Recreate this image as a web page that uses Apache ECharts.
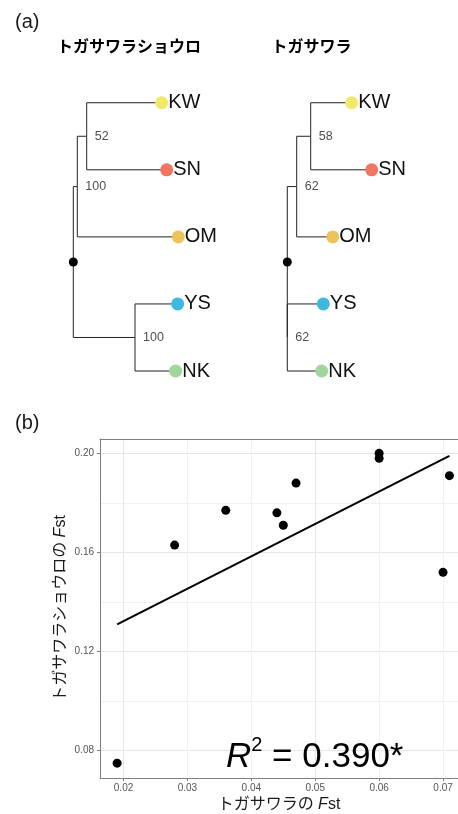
<!DOCTYPE html>
<html>
<head>
<meta charset="utf-8">
<script src="https://cdn.jsdelivr.net/npm/echarts@6/dist/echarts.min.js"></script>
<style>
html, body { margin: 0; padding: 0; background: #fff; }
#main { width: 458px; height: 814px; }
</style>
</head>
<body>
<div id="main"></div>
<script>
// (a) 系統樹：先端の並び（上から）
var tipNames = ['KW', 'SN', 'OM', 'YS', 'NK'];

// 両方の樹で共通のトポロジー（ノードと親）
var treeIds    = ['root', 'a', 'b', 'c', 'KW', 'SN', 'OM', 'YS', 'NK'];
var treeParent = [null, 'root', 'a', 'root', 'b', 'b', 'a', 'c', 'c'];

// トガサワラショウロの樹：根からの深さ、ブートストラップ値
var shoroDepth = [0, 4, 13.4, 61.7, 88.4, 93.4, 105, 104.4, 102.4];
var shoroBoot  = [null, 100, 52, 100, null, null, null, null, null];

// トガサワラの樹
var togaDepth = [0, 9.4, 23.4, 0, 64.4, 84.4, 45.4, 36, 34.4];
var togaBoot  = [null, 62, 58, 62, null, null, null, null, null];

// (b) Fst の散布図
var fstToga  = [0.019, 0.028, 0.036, 0.044, 0.045, 0.047, 0.060, 0.060, 0.071, 0.070];
var fstShoro = [0.075, 0.163, 0.177, 0.176, 0.171, 0.188, 0.200, 0.198, 0.191, 0.152];
// 回帰直線の両端
var fitX = [0.019, 0.071];
var fitY = [0.131, 0.199];

// 目盛り
var xTicks = [0.02, 0.03, 0.04, 0.05, 0.06, 0.07];
var xMinor = [0.025, 0.035, 0.045, 0.055, 0.065];
var yTicks = [0.08, 0.12, 0.16, 0.20];
var yMinor = [0.10, 0.14, 0.18];

var tipColors = { KW: '#F2E96B', SN: '#F07563', OM: '#EEC35B', YS: '#3DB8DF', NK: '#A0D69B' };
var FONT = "'Liberation Sans', 'Noto Sans CJK JP', sans-serif";

var myChart = echarts.init(document.getElementById('main'));

// 樹の座標を作る（y は先端の順番、内部ノードは子の範囲の中点）
function buildTree(depth, boot) {
    var x = {}, y = {};
    treeIds.forEach(function (id, i) { x[id] = depth[i]; });
    function getY(id) {
        var k = tipNames.indexOf(id);
        if (k >= 0) return k + 1;
        var ys = [];
        treeIds.forEach(function (c, i) { if (treeParent[i] === id) ys.push(getY(c)); });
        return (Math.min.apply(null, ys) + Math.max.apply(null, ys)) / 2;
    }
    treeIds.forEach(function (id) { y[id] = getY(id); });
    var edges = [], tips = [], boots = [];
    treeIds.forEach(function (id, i) {
        var p = treeParent[i];
        if (p) edges.push({ coords: [[x[p], y[p]], [x[p], y[id]], [x[id], y[id]]] });
        if (tipNames.indexOf(id) >= 0) {
            tips.push({ value: [x[id], y[id]], name: id, itemStyle: { color: tipColors[id] } });
        }
        if (boot[i] != null) boots.push({ value: [x[id], y[id]], name: String(boot[i]) });
    });
    return { edges: edges, tips: tips, boots: boots, root: [[x.root, y.root]] };
}

function treeSeries(tree, k) {
    return [
        {
            type: 'lines', coordinateSystem: 'cartesian2d', xAxisIndex: k, yAxisIndex: k,
            polyline: true, silent: true,
            lineStyle: { color: '#222', width: 1, opacity: 1 },
            data: tree.edges
        },
        {
            type: 'scatter', xAxisIndex: k, yAxisIndex: k, symbolSize: 13, z: 3,
            itemStyle: { opacity: 1 },
            label: { show: true, position: 'right', distance: 0, formatter: '{b}', fontSize: 20, color: '#111', fontFamily: FONT },
            data: tree.tips
        },
        {
            type: 'scatter', xAxisIndex: k, yAxisIndex: k, symbolSize: 0,
            label: { show: true, position: 'right', distance: 8, formatter: '{b}', fontSize: 12.5, color: '#222', fontFamily: FONT },
            data: tree.boots
        },
        {
            type: 'scatter', xAxisIndex: k, yAxisIndex: k, symbolSize: 9, z: 4,
            itemStyle: { color: '#000', opacity: 1 },
            data: tree.root
        }
    ];
}

var shoroTree = buildTree(shoroDepth, shoroBoot);
var togaTree = buildTree(togaDepth, togaBoot);

var points = fstToga.map(function (v, i) { return [v, fstShoro[i]]; });
var fitLine = fitX.map(function (v, i) { return [v, fitY[i]]; });

var major = { color: '#e6e6e6', width: 1, type: 'solid' };
var minor = { color: '#f1f1f1', width: 1, type: 'solid' };
var gridLines = []
    .concat(yTicks.map(function (v) { return { yAxis: v, lineStyle: major }; }))
    .concat(yMinor.map(function (v) { return { yAxis: v, lineStyle: minor }; }))
    .concat(xTicks.map(function (v) { return { xAxis: v, lineStyle: major }; }))
    .concat(xMinor.map(function (v) { return { xAxis: v, lineStyle: minor }; }));

var hiddenAxis = { type: 'value', show: false };
var fmt2 = function (v) { return v.toFixed(2); };
var nameRich = {
    n: { fontSize: 16, color: '#1a1a1a', fontFamily: FONT },
    i: { fontSize: 16, color: '#1a1a1a', fontStyle: 'italic', fontFamily: FONT }
};
var frame = { show: true, lineStyle: { color: '#7f7f7f', width: 1 } };

option = {
    animation: false,
    backgroundColor: '#fff',
    textStyle: { fontFamily: FONT },
    grid: [
        { left: 68.3, top: 69.2, width: 130, height: 335.35 },
        { left: 282.3, top: 69.2, width: 130, height: 335.35 },
        // 右端は図の端で切れている
        { left: 100, top: 439, right: 0, height: 339 }
    ],
    xAxis: [
        Object.assign({ gridIndex: 0, min: -5, max: 125 }, hiddenAxis),
        Object.assign({ gridIndex: 1, min: -5, max: 125 }, hiddenAxis),
        {
            type: 'value', gridIndex: 2, min: 0.01632, max: 0.07234, z: 5,
            axisLine: frame,
            axisTick: { show: true, length: 3, customValues: xTicks, lineStyle: { color: '#7f7f7f' } },
            axisLabel: { customValues: xTicks, formatter: fmt2, fontSize: 10, color: '#555', margin: 5 },
            splitLine: { show: false },
            name: '{n|トガサワラの }{i|F}{n|st}',
            nameLocation: 'middle', nameGap: 19, nameMoveOverlap: false,
            nameTextStyle: { rich: nameRich }
        },
        {
            // 上側の枠線
            type: 'value', gridIndex: 2, position: 'top', min: 0.01632, max: 0.07234, z: 5,
            axisLine: frame, axisTick: { show: false }, axisLabel: { show: false }, splitLine: { show: false }
        }
    ],
    yAxis: [
        Object.assign({ gridIndex: 0, min: 0.5, max: 5.5, inverse: true }, hiddenAxis),
        Object.assign({ gridIndex: 1, min: 0.5, max: 5.5, inverse: true }, hiddenAxis),
        {
            type: 'value', gridIndex: 2, min: 0.069, max: 0.2058, z: 5,
            axisLine: frame,
            axisTick: { show: true, length: 3, customValues: yTicks, lineStyle: { color: '#7f7f7f' } },
            axisLabel: { customValues: yTicks, formatter: fmt2, fontSize: 10, color: '#555', margin: 6 },
            splitLine: { show: false },
            name: '{n|トガサワラショウロの }{i|F}{n|st}',
            nameLocation: 'middle', nameGap: 31, nameMoveOverlap: false,
            nameTextStyle: { rich: nameRich }
        }
    ],
    series: treeSeries(shoroTree, 0).concat(treeSeries(togaTree, 1)).concat([
        {
            // 目盛り線
            type: 'line', xAxisIndex: 2, yAxisIndex: 2, data: [], z: 1, silent: true,
            markLine: { silent: true, z: 1, symbol: ['none', 'none'], label: { show: false }, data: gridLines }
        },
        {
            type: 'line', xAxisIndex: 2, yAxisIndex: 2, z: 10, symbol: 'none',
            lineStyle: { color: '#000', width: 2 },
            data: fitLine
        },
        {
            type: 'scatter', xAxisIndex: 2, yAxisIndex: 2, z: 11, symbolSize: 9,
            itemStyle: { color: '#000', opacity: 1 },
            data: points
        }
    ]),
    graphic: [
        { type: 'text', x: 15, y: 22, style: { text: '(a)', fontSize: 20, fontFamily: FONT, fill: '#1a1a1a', verticalAlign: 'middle' } },
        { type: 'text', x: 15, y: 423, style: { text: '(b)', fontSize: 20, fontFamily: FONT, fill: '#1a1a1a', verticalAlign: 'middle' } },
        { type: 'text', x: 129, y: 46, style: { text: 'トガサワラショウロ', fontSize: 16, fontWeight: 'bold', fontFamily: "'Noto Sans CJK JP'", fill: '#000', align: 'center', verticalAlign: 'middle' } },
        { type: 'text', x: 311.5, y: 46, style: { text: 'トガサワラ', fontSize: 16, fontWeight: 'bold', fontFamily: "'Noto Sans CJK JP'", fill: '#000', align: 'center', verticalAlign: 'middle' } },
        {
            type: 'text', x: 226, y: 757, z: 20,
            style: {
                text: '{i|R}{s|2}{n| = 0.390*}',
                verticalAlign: 'middle',
                rich: {
                    i: { fontSize: 35, fontStyle: 'italic', fontFamily: FONT, fill: '#000', lineHeight: 44 },
                    s: { fontSize: 20, fontFamily: FONT, fill: '#000', verticalAlign: 'top', lineHeight: 44 },
                    n: { fontSize: 35, fontFamily: FONT, fill: '#000', lineHeight: 44 }
                }
            }
        }
    ]
};

myChart.setOption(option);
</script>
</body>
</html>
